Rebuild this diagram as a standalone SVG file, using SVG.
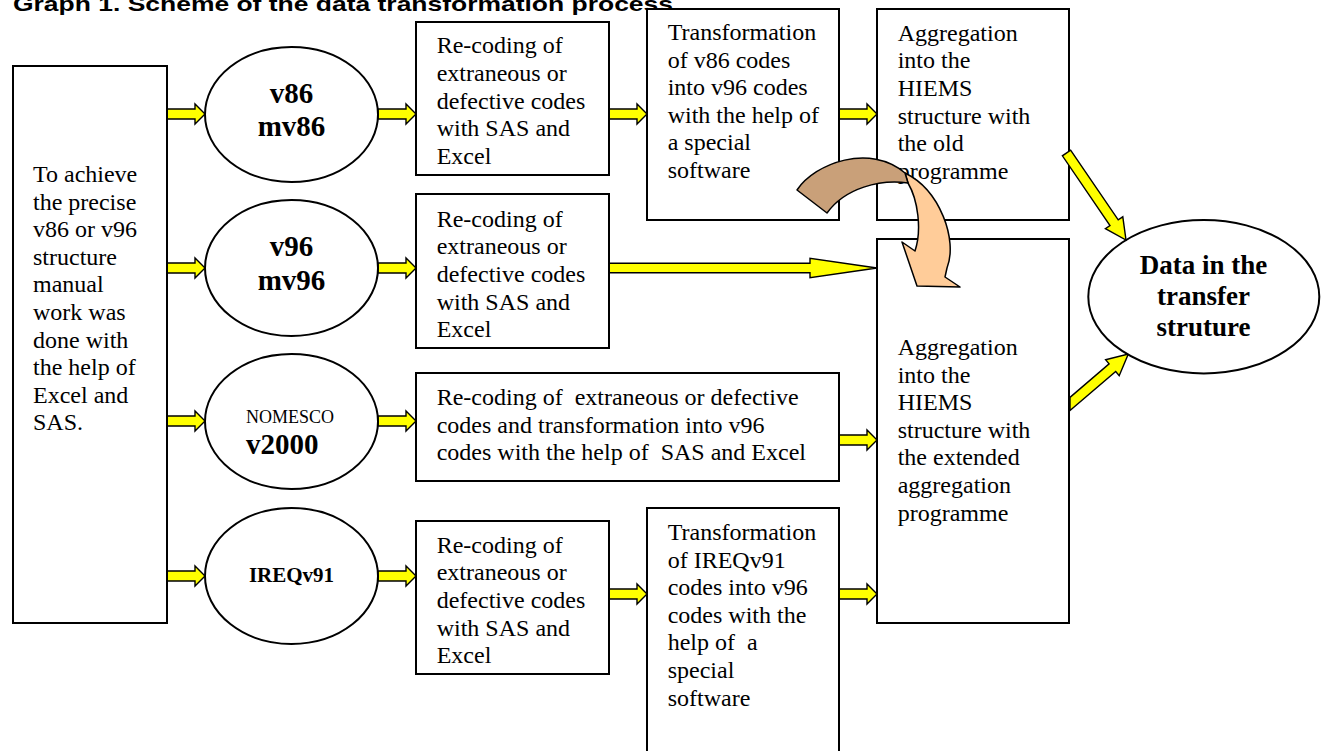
<svg xmlns="http://www.w3.org/2000/svg" xmlns:xlink="http://www.w3.org/1999/xlink" width="1324" height="751" viewBox="0 0 1324 751">
<style>
.box{fill:#fff;stroke:#000;stroke-width:2}
.ell{fill:#fff;stroke:#000;stroke-width:2}
.t{font-family:"Liberation Serif","Times New Roman",serif;font-size:24px;fill:#000;white-space:pre}
.b{font-family:"Liberation Serif","Times New Roman",serif;font-weight:bold;fill:#000}
.ya{fill:#FFFF00;stroke:#000;stroke-width:1.4;stroke-linejoin:miter}
</style>
<defs>
<path id="sa" d="M0,-5 H28 V-10 L38,0 L28,10 V5 H0 Z"/>
</defs>
<rect width="1324" height="751" fill="#fff"/>
<text x="13" y="11" font-family="'Liberation Sans',Arial,sans-serif" font-weight="bold" font-size="21" textLength="660" lengthAdjust="spacingAndGlyphs">Graph 1. Scheme of the data transformation process</text>

<g id="connectors">
<use xlink:href="#sa" href="#sa" class="ya" x="167" y="114"/>
<use xlink:href="#sa" href="#sa" class="ya" x="167" y="268"/>
<use xlink:href="#sa" href="#sa" class="ya" x="167" y="421"/>
<use xlink:href="#sa" href="#sa" class="ya" x="167" y="576"/>
<use xlink:href="#sa" href="#sa" class="ya" x="378" y="114"/>
<use xlink:href="#sa" href="#sa" class="ya" x="378" y="268"/>
<use xlink:href="#sa" href="#sa" class="ya" x="378" y="421"/>
<use xlink:href="#sa" href="#sa" class="ya" x="378" y="576"/>
<use xlink:href="#sa" href="#sa" class="ya" x="609" y="114"/>
<use xlink:href="#sa" href="#sa" class="ya" x="839" y="114"/>
<use xlink:href="#sa" href="#sa" class="ya" x="839" y="440"/>
<use xlink:href="#sa" href="#sa" class="ya" x="609" y="594"/>
<use xlink:href="#sa" href="#sa" class="ya" x="839" y="594"/>
<path class="ya" d="M609,263.3 H810 V258.3 L877,268 L810,277.7 V272.7 H609 Z"/>
<path class="ya" d="M1070,397.4 L1109.1,363.9 L1105.6,359.7 L1128.3,354 L1119.2,375.7 L1115.7,371.5 L1070,410.6 Z"/>
</g>

<g id="n-left"><rect class="box" x="13" y="66" width="154" height="557"/>
<text class="t" x="33" y="182"><tspan x="33" y="182">To achieve</tspan><tspan x="33" dy="27.6">the precise</tspan><tspan x="33" dy="27.6">v86 or v96</tspan><tspan x="33" dy="27.6">structure</tspan><tspan x="33" dy="27.6">manual</tspan><tspan x="33" dy="27.6">work was</tspan><tspan x="33" dy="27.6">done with</tspan><tspan x="33" dy="27.6">the help of</tspan><tspan x="33" dy="27.6">Excel and</tspan><tspan x="33" dy="27.6">SAS.</tspan></text></g>

<g id="n-v86"><ellipse class="ell" cx="291.5" cy="114.5" rx="86.5" ry="67.5"/>
<text class="b" font-size="29" text-anchor="middle"><tspan x="291.5" y="102.7">v86</tspan><tspan x="291.5" y="136">mv86</tspan></text></g>
<g id="n-v96"><ellipse class="ell" cx="291.5" cy="268" rx="86.5" ry="68"/>
<text class="b" font-size="29" text-anchor="middle"><tspan x="291.5" y="256">v96</tspan><tspan x="291.5" y="290">mv96</tspan></text></g>
<g id="n-nomesco"><ellipse class="ell" cx="291.5" cy="421.5" rx="86.5" ry="67.5"/>
<text x="246" y="423" font-family="'Liberation Serif','Times New Roman',serif" font-size="18">NOMESCO</text>
<text class="b" x="246" y="454" font-size="29">v2000</text></g>
<g id="n-ireq"><ellipse class="ell" cx="291.5" cy="576" rx="86.5" ry="68"/>
<text class="b" x="291.5" y="582" font-size="21" text-anchor="middle">IREQv91</text></g>

<g id="n-r1"><rect class="box" x="416" y="22" width="193" height="153"/>
<text class="t"><tspan x="436.7" y="53.3">Re-coding of</tspan><tspan x="436.7" dy="27.6">extraneous or</tspan><tspan x="436.7" dy="27.6">defective codes</tspan><tspan x="436.7" dy="27.6">with SAS and</tspan><tspan x="436.7" dy="27.6">Excel</tspan></text></g>
<g id="n-t1"><rect class="box" x="647" y="9" width="192" height="211"/>
<text class="t"><tspan x="667.7" y="40">Transformation</tspan><tspan x="667.7" dy="27.6">of v86 codes</tspan><tspan x="667.7" dy="27.6">into v96 codes</tspan><tspan x="667.7" dy="27.6">with the help of</tspan><tspan x="667.7" dy="27.6">a special</tspan><tspan x="667.7" dy="27.6">software</tspan></text></g>
<g id="n-a1"><rect class="box" x="877" y="9" width="192" height="211"/>
<text class="t"><tspan x="897.7" y="40.7">Aggregation</tspan><tspan x="897.7" dy="27.6">into the</tspan><tspan x="897.7" dy="27.6">HIEMS</tspan><tspan x="897.7" dy="27.6">structure with</tspan><tspan x="897.7" dy="27.6">the old</tspan><tspan x="897.7" dy="27.6">programme</tspan></text></g>
<g id="n-r2"><rect class="box" x="416" y="194" width="193" height="154"/>
<text class="t"><tspan x="436.7" y="226.7">Re-coding of</tspan><tspan x="436.7" dy="27.6">extraneous or</tspan><tspan x="436.7" dy="27.6">defective codes</tspan><tspan x="436.7" dy="27.6">with SAS and</tspan><tspan x="436.7" dy="27.6">Excel</tspan></text></g>
<g id="n-r3"><rect class="box" x="416" y="373" width="423" height="108"/>
<text class="t" xml:space="preserve"><tspan x="436.7" y="405">Re-coding of  extraneous or defective</tspan><tspan x="436.7" dy="27.6">codes and transformation into v96</tspan><tspan x="436.7" dy="27.6">codes with the help of  SAS and Excel</tspan></text></g>
<g id="n-r4"><rect class="box" x="416" y="521" width="193" height="153"/>
<text class="t"><tspan x="436.7" y="552.7">Re-coding of</tspan><tspan x="436.7" dy="27.6">extraneous or</tspan><tspan x="436.7" dy="27.6">defective codes</tspan><tspan x="436.7" dy="27.6">with SAS and</tspan><tspan x="436.7" dy="27.6">Excel</tspan></text></g>
<g id="n-t2"><rect class="box" x="647" y="508" width="192" height="260"/>
<text class="t" xml:space="preserve"><tspan x="667.7" y="540">Transformation</tspan><tspan x="667.7" dy="27.6">of IREQv91</tspan><tspan x="667.7" dy="27.6">codes into v96</tspan><tspan x="667.7" dy="27.6">codes with the</tspan><tspan x="667.7" dy="27.6">help of  a</tspan><tspan x="667.7" dy="27.6">special</tspan><tspan x="667.7" dy="27.6">software</tspan></text></g>
<g id="n-a2"><rect class="box" x="877" y="239" width="192" height="384"/>
<text class="t"><tspan x="897.7" y="355">Aggregation</tspan><tspan x="897.7" dy="27.6">into the</tspan><tspan x="897.7" dy="27.6">HIEMS</tspan><tspan x="897.7" dy="27.6">structure with</tspan><tspan x="897.7" dy="27.6">the extended</tspan><tspan x="897.7" dy="27.6">aggregation</tspan><tspan x="897.7" dy="27.6">programme</tspan></text></g>
<g id="n-data"><ellipse class="ell" cx="1203.8" cy="296.7" rx="115.5" ry="76.7"/>
<text class="b" font-size="27" text-anchor="middle"><tspan x="1203.5" y="274.3">Data in the</tspan><tspan x="1203.5" y="305.3">transfer</tspan><tspan x="1203.5" y="336">struture</tspan></text></g>

<g id="overlay-connectors">
<path class="ya" d="M1070.6,150.2 L1118.2,219.9 L1122.8,216.8 L1126,240 L1105.4,228.6 L1110,225.5 L1062.4,155.8 Z"/>
<path d="M905,173 C940,190 958,240 947,268 L945,277 L960,287 L917,286 L902,242 L915,251 C922,230 918,200 908,183 Z" fill="#FFCC99" stroke="#000" stroke-width="1.5" stroke-linejoin="round"/>
<path d="M797,190 C815,163 870,143 905,173 L908,183 C880,179 845,188 827,213 Z" fill="#C9A079" stroke="#000" stroke-width="1.5" stroke-linejoin="round"/>
</g>
</svg>
